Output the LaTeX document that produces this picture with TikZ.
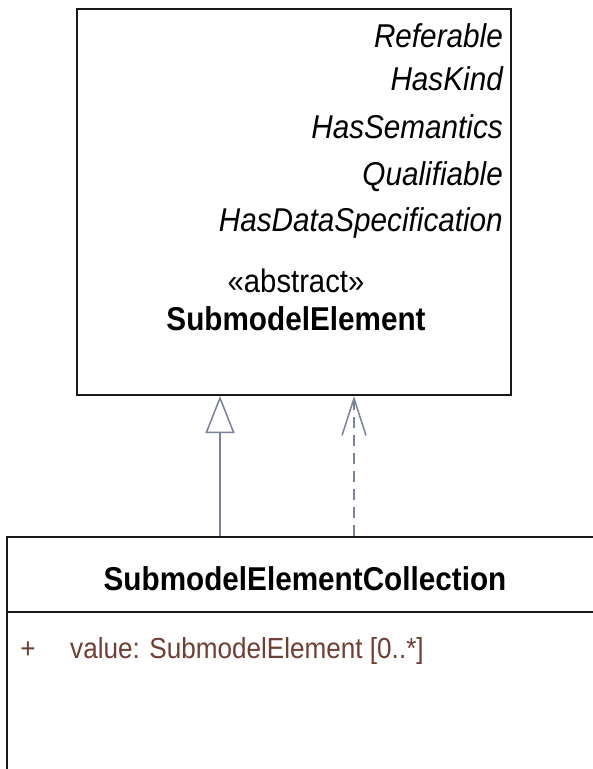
\documentclass[tikz,border=0pt]{standalone}
\usepackage{fontspec}
\setmainfont{Liberation Sans}[FakeStretch=0.9]
\usetikzlibrary{arrows.meta}
\definecolor{linkcol}{RGB}{122,130,155}
\definecolor{attrcol}{RGB}{112,62,50}
\definecolor{boxcol}{RGB}{25,25,25}
\tikzset{
  umlbox/.style={draw=boxcol, line width=2pt, fill=white, inner sep=0pt},
  supertxt/.style={font=\fontsize{33}{34}\selectfont\itshape, inner sep=0pt},
  plaintxt/.style={font=\fontsize{32.5}{34}\selectfont, inner sep=0pt},
  titletxt/.style={font=\fontsize{33}{34}\selectfont\bfseries, inner sep=0pt},
  attrtxt/.style={font=\fontsize{29}{30}\selectfont, text=attrcol, inner sep=0pt},
  genline/.style={draw=linkcol, line width=1.5pt, -{Triangle[open, length=37pt, width=29pt, line width=1.5pt]}},
  realline/.style={draw=linkcol, line width=1.5pt, dash pattern=on 11pt off 7pt, -{Straight Barb[length=37pt, width=24pt, line width=1.5pt]}}
}
\begin{document}
\begin{tikzpicture}[x=1pt,y=1pt]
\useasboundingbox (0,0) rectangle (593,-769);
\begin{scope}
\clip (0,0) rectangle (593,-769);
% superclass box
\node[umlbox, minimum width=434pt, minimum height=386pt] (super) at (294,-202) {};
\node[supertxt, anchor=base east] (t1) at (503,-47) {Referable};
\node[supertxt, anchor=base east] (t2) at (503,-90) {HasKind};
\node[supertxt, anchor=base east] (t3) at (503,-138) {HasSemantics};
\node[supertxt, anchor=base east] (t4) at (503,-185) {Qualifiable};
\node[supertxt, anchor=base east] (t5) at (503,-231) {HasDataSpecification};
\node[plaintxt, anchor=base] (stereo) at (296,-292) {«abstract»};
\node[titletxt, anchor=base] (supername) at (296,-330) {SubmodelElement};
% collection box
\node[umlbox, minimum width=595pt, minimum height=236pt] (coll) at (304,-655) {};
\coordinate (divl) at (7,-612);
\coordinate (divr) at (602,-612);
\draw[draw=boxcol, line width=2pt] (divl) -- (divr);
\node[titletxt, anchor=base] (collname) at (305,-590) {SubmodelElementCollection};
\node[attrtxt, anchor=base] (plus) at (28,-658) {+};
\node[attrtxt, anchor=base west] (attr) at (70,-658) {value: SubmodelElement [0..*]};
% connectors
\coordinate (gx) at (220,0);
\coordinate (rx) at (354,0);
\draw[genline] (coll.north -| gx) -- (super.south -| gx);
\draw[realline] (coll.north -| rx) -- (super.south -| rx);
\end{scope}
\end{tikzpicture}
\end{document}
